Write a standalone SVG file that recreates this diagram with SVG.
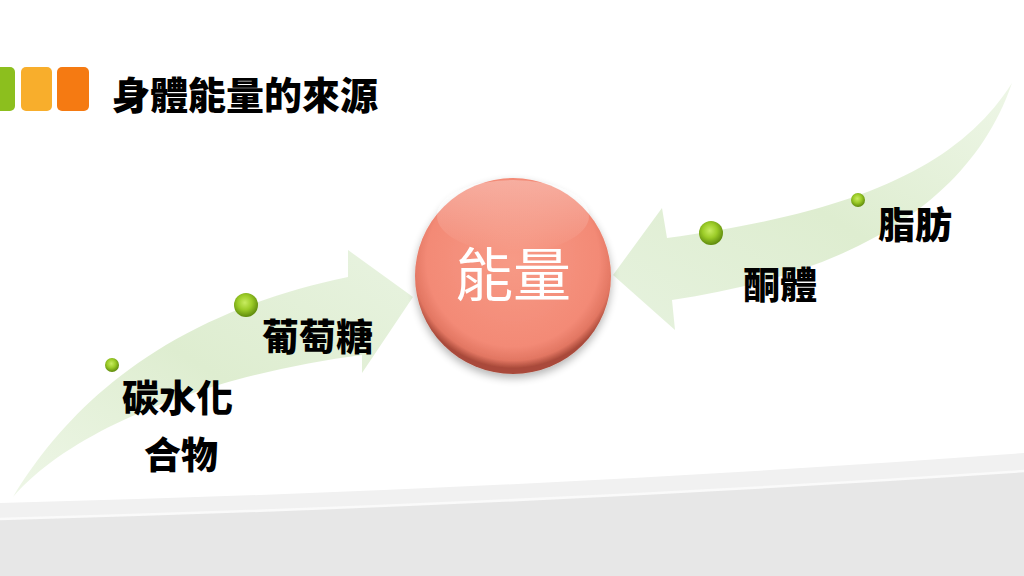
<svg xmlns="http://www.w3.org/2000/svg" width="1024" height="576" viewBox="0 0 1024 576">
<style>
.lbl{font-family:"Noto Sans CJK TC","Noto Sans CJK SC",sans-serif;font-weight:900;font-size:37px;fill:#000}
.title{font-family:"Noto Sans CJK TC","Noto Sans CJK SC",sans-serif;font-weight:900;font-size:38px;fill:#000}
.big{font-family:"Noto Sans CJK TC","Noto Sans CJK SC",sans-serif;font-weight:400;font-size:58px;fill:#fff}
.arrow{stroke:none}
</style>
<defs>
<linearGradient id="gL" x1="0" y1="1" x2="1" y2="0">
<stop offset="0" stop-color="#e2f0d6" stop-opacity="0.6"/>
<stop offset="0.5" stop-color="#deedd0"/>
<stop offset="1" stop-color="#e8f3e0"/>
</linearGradient>
<linearGradient id="gR" x1="1" y1="0" x2="0" y2="1">
<stop offset="0" stop-color="#e2f0d6" stop-opacity="0.6"/>
<stop offset="0.5" stop-color="#deedd0"/>
<stop offset="1" stop-color="#e6f2de"/>
</linearGradient>
<radialGradient id="gC" cx="0.5" cy="0.42" r="0.55">
<stop offset="0" stop-color="#f79a86"/>
<stop offset="0.8" stop-color="#f38a76"/>
<stop offset="0.93" stop-color="#e27662"/>
<stop offset="1" stop-color="#a94a3a"/>
</radialGradient>
<linearGradient id="gH" x1="0" y1="0" x2="0" y2="1">
<stop offset="0" stop-color="#fff" stop-opacity="0.3"/>
<stop offset="1" stop-color="#fff" stop-opacity="0"/>
</linearGradient>
<radialGradient id="gD" cx="0.45" cy="0.4" r="0.6">
<stop offset="0" stop-color="#c8ec60"/>
<stop offset="0.5" stop-color="#9ccc28"/>
<stop offset="1" stop-color="#5e8a0c"/>
</radialGradient>
<filter id="sh" x="-20%" y="-20%" width="140%" height="140%">
<feGaussianBlur in="SourceAlpha" stdDeviation="4"/>
<feOffset dx="0" dy="4"/>
<feComponentTransfer><feFuncA type="linear" slope="0.3"/></feComponentTransfer>
<feMerge><feMergeNode/><feMergeNode in="SourceGraphic"/></feMerge>
</filter>
</defs>
<rect width="1024" height="576" fill="#fff"/>
<g id="background">
<path d="M0,503 Q 520,490 1024,453 L1024,576 L0,576 Z" fill="#f1f1f1"/>
<path d="M0,519 Q 520,505 1024,471 L1024,576 L0,576 Z" fill="#e7e7e7"/>
<path d="M0,519 Q 520,505 1024,471" fill="none" stroke="#fafafa" stroke-width="2.5"/>
</g>
<g id="title">
<rect x="-8" y="67" width="23" height="44" rx="5" fill="#8cbf1e"/>
<rect x="21" y="67" width="31" height="44" rx="5" fill="#f8ae2c"/>
<rect x="57" y="67" width="32" height="44" rx="5" fill="#f57a12"/>
<text class="title" x="112" y="109">身體能量的來源</text>
</g>
<g id="connectors">
<path class="arrow" fill="url(#gL)" d="M13,497 C 60,420 150,318 348,277 L348,250 L413,297 L362,373 L362,355 C 230,372 80,420 13,497 Z"/>
<path class="arrow" fill="url(#gR)" d="M1012,83 C 960,165 860,212 667,238 L662,208 L613,275 L675,330 L672,300 C 820,278 965,220 1012,83 Z"/>
</g>
<g id="node-energy" filter="url(#sh)">
<circle cx="513" cy="276" r="98" fill="url(#gC)"/>
<ellipse cx="513" cy="216" rx="76" ry="36" fill="url(#gH)"/>
<text class="big" x="513" y="296" text-anchor="middle">能量</text>
</g>
<g id="node-carb">
<circle cx="112" cy="365" r="7" fill="url(#gD)"/>
<text class="lbl" x="122" y="412">碳水化</text>
<text class="lbl" x="144" y="469">合物</text>
</g>
<g id="node-glucose">
<circle cx="246" cy="305" r="12" fill="url(#gD)"/>
<text class="lbl" x="262" y="351">葡萄糖</text>
</g>
<g id="node-fat">
<circle cx="858" cy="200" r="7" fill="url(#gD)"/>
<text class="lbl" x="878" y="239">脂肪</text>
</g>
<g id="node-ketone">
<circle cx="711" cy="233" r="12" fill="url(#gD)"/>
<text class="lbl" x="743" y="299">酮體</text>
</g>
</svg>
